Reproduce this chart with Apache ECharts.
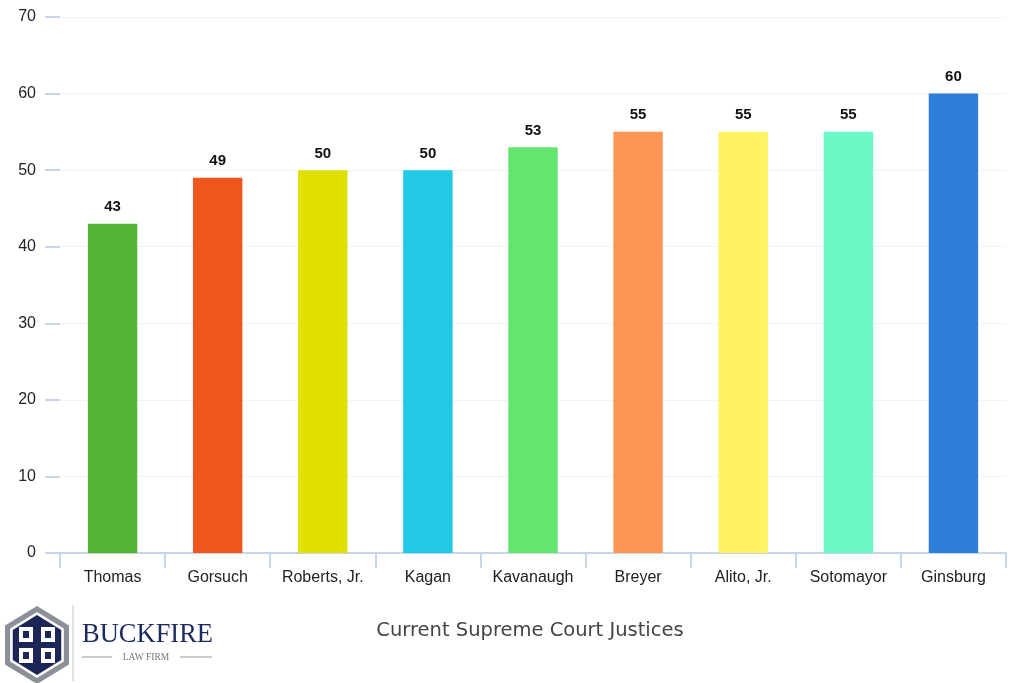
<!DOCTYPE html>
<html>
<head>
<meta charset="utf-8">
<script src="https://cdn.jsdelivr.net/npm/echarts@6/dist/echarts.min.js"></script>
<style>
  html, body { margin: 0; padding: 0; background: #fff; }
  #chart { width: 1024px; height: 683px; }
</style>
</head>
<body>
<div id="chart"></div>
<script>
const justices = ['Thomas', 'Gorsuch', 'Roberts, Jr.', 'Kagan', 'Kavanaugh', 'Breyer', 'Alito, Jr.', 'Sotomayor', 'Ginsburg'];
const yearsServed = [43, 49, 50, 50, 53, 55, 55, 55, 60];
const barColors = ['#52b334', '#ee561e', '#dfe000', '#22c9e4', '#63e56f', '#ff9655', '#fff263', '#6af9c4', '#2e7fd9'];

const chart = echarts.init(document.getElementById('chart'));

// logo, bottom left
const hex = (cx, cy, rx, ry) => {
  const pts = [];
  for (let i = 0; i < 6; i++) {
    const a = Math.PI / 180 * (60 * i - 90);
    pts.push([cx + rx * Math.cos(a), cy + ry * Math.sin(a)]);
  }
  return pts;
};

const option = {
  animation: false,
  grid: { left: 60, right: 18, top: 17, bottom: 130 },
  xAxis: {
    type: 'category',
    data: justices,
    axisLine: { lineStyle: { color: '#c6d6e8', width: 2 } },
    axisTick: { show: true, interval: 0, length: 15, lineStyle: { color: '#c6d6e8', width: 2 } },
    axisLabel: { interval: 0, color: '#222', fontSize: 16, fontFamily: 'Liberation Sans', margin: 17 }
  },
  yAxis: {
    type: 'value',
    min: 0,
    max: 70,
    interval: 10,
    axisLine: { show: false },
    axisTick: { show: true, length: 15, lineStyle: { color: '#c6d6e8', width: 2 } },
    axisLabel: { color: '#222', fontSize: 16, fontFamily: 'Liberation Sans', margin: 24 },
    splitLine: { lineStyle: { color: '#f3f3f3' } }
  },
  series: [{
    type: 'bar',
    barWidth: '47%',
    data: yearsServed.map((v, i) => ({ value: v, itemStyle: { color: barColors[i] } })),
    label: {
      show: true,
      position: 'top',
      distance: 9,
      color: '#111',
      fontSize: 15,
      fontWeight: 'bold',
      fontFamily: 'Liberation Sans'
    }
  }],
  graphic: [
    {
      type: 'text', x: 530, y: 631,
      style: {
        text: 'Current Supreme Court Justices', fill: '#444', fontSize: 19.5,
        fontFamily: 'DejaVu Sans', align: 'center', verticalAlign: 'middle'
      }
    },
    { type: 'polygon', shape: { points: hex(37, 645, 37, 39) }, style: { fill: '#8b8f98' } },
    { type: 'polygon', shape: { points: hex(37, 645, 31, 33) }, style: { fill: '#fff' } },
    { type: 'polygon', shape: { points: hex(37, 645, 28, 30) }, style: { fill: '#1b2656' } },
    { type: 'rect', shape: { x: 19, y: 627, width: 14, height: 15 }, style: { fill: '#fff' } },
    { type: 'rect', shape: { x: 41, y: 627, width: 14, height: 15 }, style: { fill: '#fff' } },
    { type: 'rect', shape: { x: 19, y: 648, width: 14, height: 15 }, style: { fill: '#fff' } },
    { type: 'rect', shape: { x: 41, y: 648, width: 14, height: 15 }, style: { fill: '#fff' } },
    { type: 'rect', shape: { x: 23, y: 631, width: 6, height: 7 }, style: { fill: '#1b2656' } },
    { type: 'rect', shape: { x: 45, y: 631, width: 6, height: 7 }, style: { fill: '#1b2656' } },
    { type: 'rect', shape: { x: 23, y: 652, width: 6, height: 7 }, style: { fill: '#1b2656' } },
    { type: 'rect', shape: { x: 45, y: 652, width: 6, height: 7 }, style: { fill: '#1b2656' } },
    { type: 'line', shape: { x1: 73, y1: 605, x2: 73, y2: 681 }, style: { stroke: '#c8c8c8', lineWidth: 1 } },
    {
      type: 'text', x: 82, y: 635,
      style: { text: 'BUCKFIRE', fill: '#1d2a5b', fontSize: 26.5, fontFamily: 'Liberation Serif', verticalAlign: 'middle' }
    },
    { type: 'line', shape: { x1: 82, y1: 657, x2: 112, y2: 657 }, style: { stroke: '#999', lineWidth: 1 } },
    { type: 'line', shape: { x1: 180, y1: 657, x2: 212, y2: 657 }, style: { stroke: '#999', lineWidth: 1 } },
    {
      type: 'text', x: 146, y: 657,
      style: { text: 'LAW FIRM', fill: '#777', fontSize: 9.5, fontFamily: 'Liberation Serif', align: 'center', verticalAlign: 'middle' }
    }
  ]
};

chart.setOption(option);
</script>
</body>
</html>
